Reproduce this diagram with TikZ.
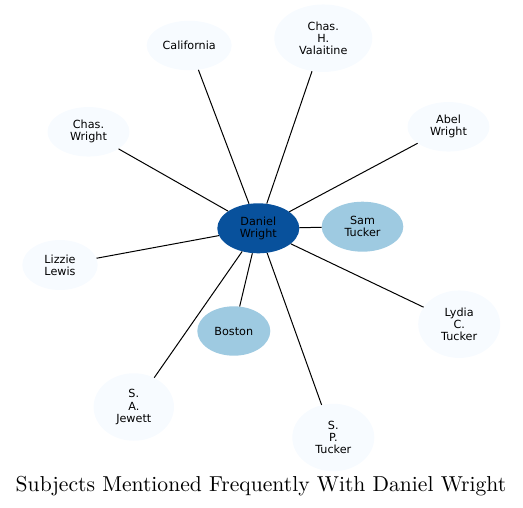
\documentclass[tikz,border=0pt]{standalone}
\usepackage{fontspec}
\newfontfamily\nodefont{DejaVu Sans}
\usetikzlibrary{shapes.geometric}
\definecolor{pale}{HTML}{F7FBFF}
\definecolor{mid}{HTML}{9ECAE1}
\definecolor{dark}{HTML}{08519C}
\tikzset{
  ent/.style={ellipse, inner sep=0pt, draw=none, align=center,
    font=\nodefont\fontsize{11.2}{12.2}\selectfont, text=black},
  small/.style={ent, fill=pale, minimum width=82pt, minimum height=49.5pt},
  tall/.style={ent, fill=pale, minimum width=82pt, minimum height=67.5pt},
  link/.style={draw=black, line width=1pt},
}
\begin{document}
\begin{tikzpicture}[x=1pt, y=-1pt]
\useasboundingbox (0,0) rectangle (523,507);
\node[ent, fill=dark, minimum width=82pt, minimum height=50pt] (dw) at (258.3,228.3) {Daniel\\Wright};
\node[ent, fill=mid, minimum width=81.6pt, minimum height=50pt] (st) at (362.5,226.7) {Sam\\Tucker};
\node[ent, fill=mid, minimum width=73pt, minimum height=49.4pt] (bo) at (233.8,331) {Boston};
\node[small, minimum width=85pt] (ca) at (189.2,45.5) {California};
\node[tall, minimum width=98pt] (chv) at (323.3,38.2) {Chas.\\H.\\Valaitine};
\node[small] (aw) at (448.5,126.8) {Abel\\Wright};
\node[small] (cw) at (88.5,131.8) {Chas.\\Wright};
\node[small, minimum width=75.4pt, minimum height=50pt] (ll) at (60,265) {Lizzie\\Lewis};
\node[tall] (lct) at (459.2,324.2) {Lydia\\C.\\Tucker};
\node[tall, minimum width=80.4pt] (saj) at (133.8,407) {S.\\A.\\Jewett};
\node[tall] (spt) at (333.3,437.5) {S.\\P.\\Tucker};
\foreach \n in {st,bo,ca,chv,aw,cw,ll,lct,saj,spt}
  \draw[link] (dw) -- (\n);
\node[inner sep=0pt, anchor=base] (title) at (261,491.5) {\scalebox{2.16}{Subjects Mentioned Frequently With Daniel Wright}};
\end{tikzpicture}
\end{document}
